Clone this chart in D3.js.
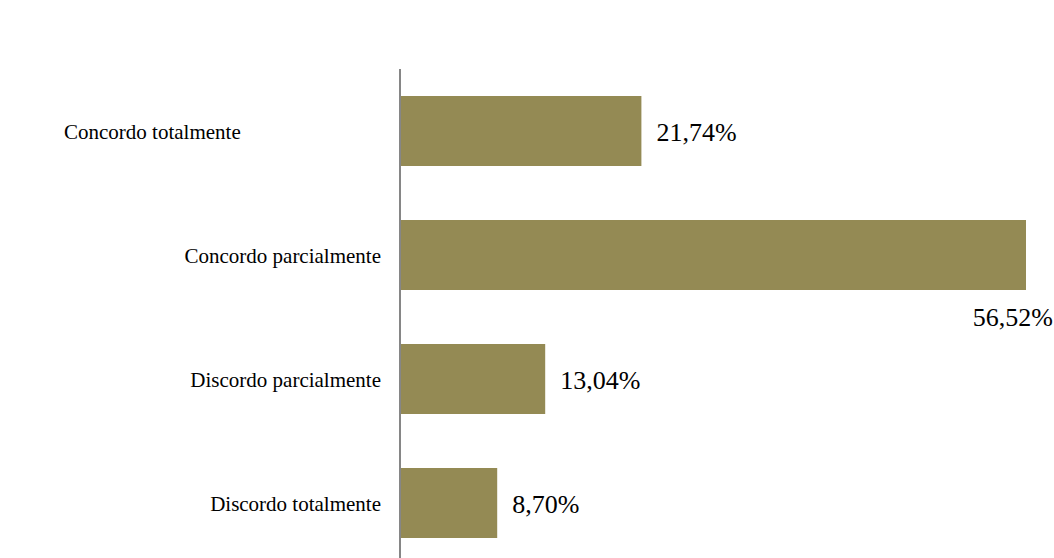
<!DOCTYPE html>
<html>
<head>
<meta charset="utf-8">
<script src="https://cdn.jsdelivr.net/npm/d3@7/dist/d3.min.js"></script>
<style>
  html, body { margin: 0; padding: 0; background: #fff; }
  svg { display: block; }
  text { font-family: "Liberation Serif", "Times New Roman", serif; fill: #000; }
</style>
</head>
<body>
<svg id="chart" width="1054" height="558"></svg>
<script>
// Survey answers and their share of responses (%)
const categories = ["Concordo totalmente", "Concordo parcialmente", "Discordo parcialmente", "Discordo totalmente"];
const values = [21.74, 56.52, 13.04, 8.70];
const valueLabels = ["21,74%", "56,52%", "13,04%", "8,70%"];

const svg = d3.select("#chart");
const W = 1054, H = 558;

const x = d3.scaleLinear().domain([0, 60]).range([401, 401 + 625 * 60 / 56.52]);
const y = d3.scaleBand().domain(categories).range([96, 538]).paddingInner(54 / 124).paddingOuter(0);

const data = categories.map((c, i) => ({ c, v: values[i], label: valueLabels[i] }));

// bars
svg.append("g").selectAll("rect")
  .data(data).join("rect")
  .attr("x", x(0))
  .attr("y", d => y(d.c))
  .attr("width", d => x(d.v) - x(0))
  .attr("height", y.bandwidth())
  .attr("fill", "#948A54");

// vertical category axis line
svg.append("line")
  .attr("x1", 400).attr("x2", 400)
  .attr("y1", 69).attr("y2", H)
  .attr("stroke", "#868686").attr("stroke-width", 2);

// category labels
svg.append("g").selectAll("text")
  .data(data).join("text")
  .attr("x", (d, i) => i === 0 ? 64 : 381)
  .attr("y", d => y(d.c) + y.bandwidth() / 2 + 7.5)
  .attr("text-anchor", (d, i) => i === 0 ? "start" : "end")
  .style("font-size", "21px")
  .text(d => d.c);

// value labels
const maxV = d3.max(values);
svg.append("g").selectAll("text")
  .data(data).join("text")
  .attr("x", d => d.v === maxV ? x(d.v) + 27 : x(d.v) + 15)
  .attr("y", d => d.v === maxV ? y(d.c) + y.bandwidth() + 36 : y(d.c) + y.bandwidth() / 2 + 10)
  .attr("text-anchor", d => d.v === maxV ? "end" : "start")
  .style("font-size", "26px")
  .text(d => d.label);
</script>
</body>
</html>
